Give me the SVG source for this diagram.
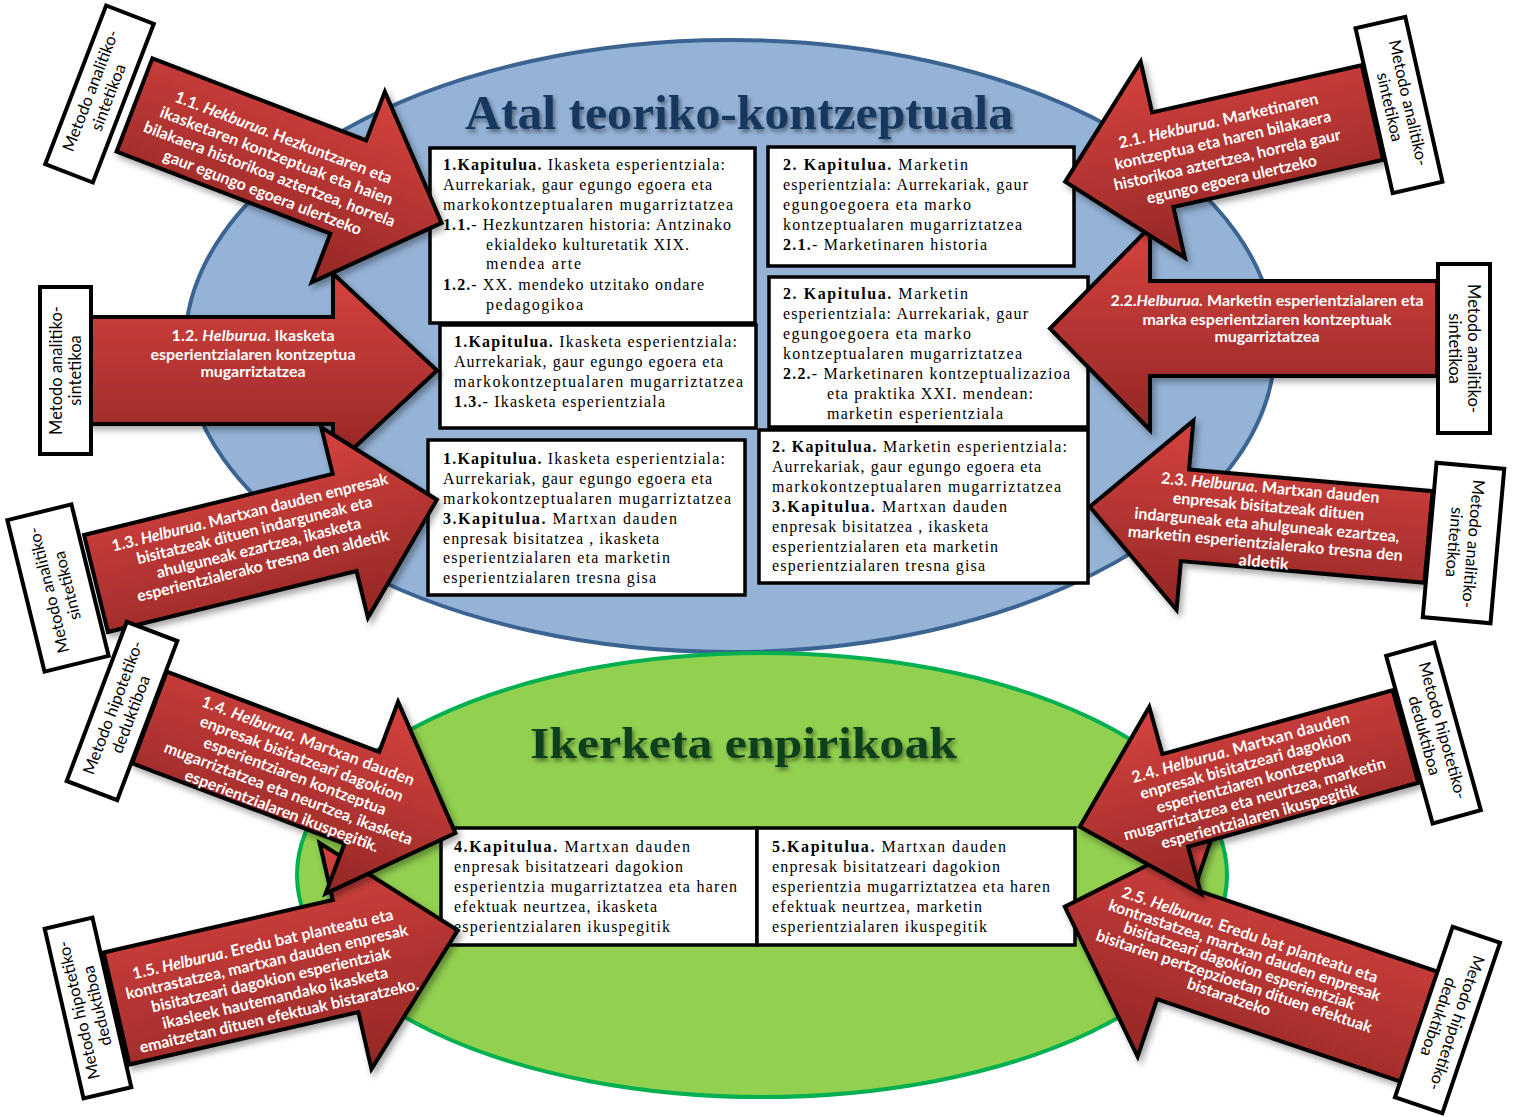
<svg xmlns="http://www.w3.org/2000/svg" width="1515" height="1117" viewBox="0 0 1515 1117">
  <defs>
    <!-- red fill for block arrows; redL is flipped for arrows turned ~180deg -->
    <linearGradient id="redR" x1="0" y1="0" x2="0" y2="1">
      <stop offset="0" stop-color="#D6433F"/>
      <stop offset="1" stop-color="#932725"/>
    </linearGradient>
    <linearGradient id="redL" x1="0" y1="1" x2="0" y2="0">
      <stop offset="0" stop-color="#D6433F"/>
      <stop offset="1" stop-color="#932725"/>
    </linearGradient>
    <filter id="shadow" x="-15%" y="-15%" width="140%" height="140%">
      <feDropShadow dx="3" dy="4" stdDeviation="3" flood-color="#000" flood-opacity="0.35"/>
    </filter>
    <filter id="tshadow" x="-5%" y="-20%" width="115%" height="160%">
      <feDropShadow dx="2" dy="3" stdDeviation="2" flood-color="#000" flood-opacity="0.45"/>
    </filter>
  </defs>
  <style>
    .arrow path { stroke:#000; stroke-width:4; stroke-linejoin:miter; }
    .ar { fill:url(#redR); }
    .al { fill:url(#redL); }
    .atx { font-family:Lato,"Liberation Sans",sans-serif; font-weight:700; font-size:16px; fill:#fff; text-anchor:middle; }
    .it { font-style:italic; }
    .box rect { fill:#fff; stroke:#000; stroke-width:3.5; }
    .btx { font-family:"Liberation Serif",serif; font-size:16px; fill:#000; }
    .b { font-weight:700; }
    .lbl rect { fill:#fff; stroke:#000; stroke-width:4; }
    .ltx { font-family:Lato,"Liberation Sans",sans-serif; font-size:16.5px; fill:#000; text-anchor:middle; }
    .title { font-family:"Liberation Serif",serif; font-weight:700; filter:url(#tshadow); }
  </style>

  <rect width="1515" height="1117" fill="#fff"/>

  <!-- background areas -->
  <g id="area-theory">
    <ellipse cx="730" cy="346" rx="545" ry="306" fill="#95B3D7" stroke="#3C6492" stroke-width="4"/>
    <text class="title" x="465" y="129" font-size="48" fill="#17375E" textLength="548" lengthAdjust="spacingAndGlyphs">Atal teoriko-kontzeptuala</text>
  </g>
  <g id="area-empirical">
    <ellipse cx="762" cy="875" rx="465" ry="222" fill="#92D050" stroke="#00B050" stroke-width="4"/>
    <text class="title" x="530" y="758" font-size="45" fill="#10401A" textLength="427" lengthAdjust="spacingAndGlyphs">Ikerketa enpirikoak</text>
  </g>

  <!-- chapter boxes -->
  <g id="box-1-1" class="box">
    <rect x="430" y="148" width="325" height="175"/>
    <text class="btx" x="443" y="170" textLength="282"><tspan class="b">1.Kapitulua.</tspan> Ikasketa esperientziala:</text>
    <text class="btx" x="443" y="190" textLength="269">Aurrekariak, gaur egungo egoera eta</text>
    <text class="btx" x="443" y="210" textLength="290">markokontzeptualaren mugarriztatzea</text>
    <text class="btx" x="443" y="230" textLength="288"><tspan class="b">1.1.</tspan>- Hezkuntzaren historia: Antzinako</text>
    <text class="btx" x="486" y="250" textLength="203">ekialdeko kulturetatik XIX.</text>
    <text class="btx" x="486" y="269" textLength="95">mendea arte</text>
    <text class="btx" x="443" y="290" textLength="261"><tspan class="b">1.2.</tspan>- XX. mendeko utzitako ondare</text>
    <text class="btx" x="486" y="310" textLength="97">pedagogikoa</text>
  </g>
  <g id="box-1-2" class="box">
    <rect x="440" y="325" width="316" height="103"/>
    <text class="btx" x="454" y="347" textLength="283"><tspan class="b">1.Kapitulua.</tspan> Ikasketa esperientziala:</text>
    <text class="btx" x="454" y="367" textLength="269">Aurrekariak, gaur egungo egoera eta</text>
    <text class="btx" x="454" y="387" textLength="289">markokontzeptualaren mugarriztatzea</text>
    <text class="btx" x="454" y="407" textLength="211"><tspan class="b">1.3.</tspan>- Ikasketa esperientziala</text>
  </g>
  <g id="box-1-3" class="box">
    <rect x="428" y="440" width="317" height="155"/>
    <text class="btx" x="443" y="464" textLength="282"><tspan class="b">1.Kapitulua.</tspan> Ikasketa esperientziala:</text>
    <text class="btx" x="443" y="484" textLength="269">Aurrekariak, gaur egungo egoera eta</text>
    <text class="btx" x="443" y="504" textLength="288">markokontzeptualaren mugarriztatzea</text>
    <text class="btx" x="443" y="524" textLength="234"><tspan class="b">3.Kapitulua.</tspan> Martxan dauden</text>
    <text class="btx" x="443" y="544" textLength="216">enpresak bisitatzea , ikasketa</text>
    <text class="btx" x="443" y="563" textLength="227">esperientzialaren eta marketin</text>
    <text class="btx" x="443" y="583" textLength="213">esperientzialaren tresna gisa</text>
  </g>
  <g id="box-2-1" class="box">
    <rect x="768" y="147" width="306" height="119"/>
    <text class="btx" x="783" y="170" textLength="185"><tspan class="b">2. Kapitulua.</tspan> Marketin</text>
    <text class="btx" x="783" y="190" textLength="245">esperientziala: Aurrekariak, gaur</text>
    <text class="btx" x="783" y="210" textLength="188">egungoegoera eta marko</text>
    <text class="btx" x="783" y="230" textLength="239">kontzeptualaren mugarriztatzea</text>
    <text class="btx" x="783" y="250" textLength="204"><tspan class="b">2.1.</tspan>- Marketinaren historia</text>
  </g>
  <g id="box-2-2" class="box">
    <rect x="769" y="277" width="319" height="150"/>
    <text class="btx" x="783" y="299" textLength="185"><tspan class="b">2. Kapitulua.</tspan> Marketin</text>
    <text class="btx" x="783" y="319" textLength="245">esperientziala: Aurrekariak, gaur</text>
    <text class="btx" x="783" y="339" textLength="188">egungoegoera eta marko</text>
    <text class="btx" x="783" y="359" textLength="239">kontzeptualaren mugarriztatzea</text>
    <text class="btx" x="783" y="379" textLength="287"><tspan class="b">2.2.</tspan>- Marketinaren kontzeptualizazioa</text>
    <text class="btx" x="827" y="399" textLength="206">eta praktika XXI. mendean:</text>
    <text class="btx" x="827" y="419" textLength="176">marketin esperientziala</text>
  </g>
  <g id="box-2-3" class="box">
    <rect x="759" y="430" width="329" height="153"/>
    <text class="btx" x="772" y="452" textLength="295"><tspan class="b">2. Kapitulua.</tspan> Marketin esperientziala:</text>
    <text class="btx" x="772" y="472" textLength="269">Aurrekariak, gaur egungo egoera eta</text>
    <text class="btx" x="772" y="492" textLength="289">markokontzeptualaren mugarriztatzea</text>
    <text class="btx" x="772" y="512" textLength="235"><tspan class="b">3.Kapitulua.</tspan> Martxan dauden</text>
    <text class="btx" x="772" y="532" textLength="216">enpresak bisitatzea , ikasketa</text>
    <text class="btx" x="772" y="552" textLength="226">esperientzialaren eta marketin</text>
    <text class="btx" x="772" y="571" textLength="213">esperientzialaren tresna gisa</text>
  </g>
  <g id="box-4" class="box">
    <rect x="441" y="828" width="316" height="117"/>
    <text class="btx" x="454" y="852" textLength="236"><tspan class="b">4.Kapitulua.</tspan> Martxan dauden</text>
    <text class="btx" x="454" y="872" textLength="229">enpresak bisitatzeari dagokion</text>
    <text class="btx" x="454" y="892" textLength="283">esperientzia mugarriztatzea eta haren</text>
    <text class="btx" x="454" y="912" textLength="203">efektuak neurtzea, ikasketa</text>
    <text class="btx" x="454" y="932" textLength="216">esperientzialaren ikuspegitik</text>
  </g>
  <g id="box-5" class="box">
    <rect x="757" y="828" width="318" height="117"/>
    <text class="btx" x="772" y="852" textLength="234"><tspan class="b">5.Kapitulua.</tspan> Martxan dauden</text>
    <text class="btx" x="772" y="872" textLength="228">enpresak bisitatzeari dagokion</text>
    <text class="btx" x="772" y="892" textLength="278">esperientzia mugarriztatzea eta haren</text>
    <text class="btx" x="772" y="912" textLength="210">efektuak neurtzea, marketin</text>
    <text class="btx" x="772" y="932" textLength="215">esperientzialaren ikuspegitik</text>
  </g>

  <!-- objective arrows (block arrows drawn in local frame: tail at origin, pointing +x) -->
  <g id="connectors">
    <g id="obj-1-2">
      <g class="arrow" filter="url(#shadow)">
        <path class="ar" transform="translate(89,370.5)" d="M0,-53.5H244V-97L348,0L244,97V53.5H0Z"/>
      </g>
      <text class="atx" x="253" y="340.5" textLength="163">1.2. <tspan class="it">Helburua</tspan>. Ikasketa</text>
      <text class="atx" x="253" y="359.5" textLength="205">esperientzialaren kontzeptua</text>
      <text class="atx" x="253" y="376.5" textLength="105">mugarriztatzea</text>
    </g>
    <g id="obj-1-3">
      <g class="arrow" filter="url(#shadow)">
        <path class="ar" transform="translate(96,583.5) rotate(-13.8)" d="M0,-50H256V-98L351,0L256,98V50H0Z"/>
      </g>
      <g transform="translate(256.5,539) rotate(-13.8)">
        <text class="atx" y="-22" textLength="284">1.3. <tspan class="it">Helburua</tspan>. Martxan dauden enpresak</text>
        <text class="atx" y="-3.6" textLength="242">bisitatzeak dituen indarguneak eta</text>
        <text class="atx" y="14.6" textLength="210">ahulguneak ezartzea, ikasketa</text>
        <text class="atx" y="32.8" textLength="259">esperientzialerako tresna den aldetik</text>
      </g>
    </g>
    <g id="obj-1-1">
      <g class="arrow" filter="url(#shadow)">
        <path class="ar" transform="translate(134.5,105) rotate(21)" d="M0,-50H229V-102L329,0L229,102V50H0Z"/>
      </g>
      <g transform="translate(273,165) rotate(21)">
        <text class="atx" y="-24" textLength="231">1.1. <tspan class="it">Hekburua</tspan>. Hezkuntzaren eta</text>
        <text class="atx" y="-4.4" textLength="248">ikasketaren kontzeptuak eta haien</text>
        <text class="atx" y="15.2" textLength="268">bilakaera historikoa aztertzea, horrela</text>
        <text class="atx" y="34.8" textLength="211">gaur egungo egoera ulertzeko</text>
      </g>
    </g>
    <g id="obj-1-5">
      <g class="arrow" filter="url(#shadow)">
        <path class="ar" transform="translate(116.5,1008.5) rotate(-12.9)" d="M0,-57.5H235V-116L350,0L235,116V57.5H0Z"/>
      </g>
      <g transform="translate(271,980) rotate(-12.9)">
        <text class="atx" y="-31.4" textLength="267">1.5. <tspan class="it">Helburua</tspan>. Eredu bat planteatu eta</text>
        <text class="atx" y="-13" textLength="289">kontrastatzea, martxan dauden enpresak</text>
        <text class="atx" y="5.4" textLength="245">bisitatzeari dagokion esperientziak</text>
        <text class="atx" y="23.8" textLength="231">ikasleek hautemandako ikasketa</text>
        <text class="atx" y="42.2" textLength="286">emaitzetan dituen efektuak bistaratzeko.</text>
      </g>
    </g>
    <g id="obj-1-4">
      <g class="arrow" filter="url(#shadow)">
        <path class="ar" transform="translate(149.5,717.5) rotate(20.7)" d="M0,-49H227V-102.5L327,0L227,102.5V49H0Z"/>
      </g>
      <g transform="translate(295,776) rotate(20.7)">
        <text class="atx" y="-32" textLength="226">1.4. <tspan class="it">Helburua</tspan>.  Martxan dauden</text>
        <text class="atx" y="-13.2" textLength="216">enpresak bisitatzeari dagokion</text>
        <text class="atx" y="5.4" textLength="194">esperientziaren kontzeptua</text>
        <text class="atx" y="24" textLength="264">mugarriztatzea eta neurtzea, ikasketa</text>
        <text class="atx" y="42.6" textLength="206">esperientzialaren ikuspegitik.</text>
      </g>
    </g>
    <g id="obj-2-2">
      <g class="arrow" filter="url(#shadow)">
        <path class="al" transform="translate(1437,328.5) rotate(180)" d="M0,-47.5H287V-101.5L387,0L287,101.5V47.5H0Z"/>
      </g>
      <text class="atx" x="1267" y="305.5" textLength="313">2.2.<tspan class="it">Helburua.</tspan> Marketin esperientzialaren eta</text>
      <text class="atx" x="1267" y="324.5" textLength="249">marka esperientziaren kontzeptuak</text>
      <text class="atx" x="1267" y="341.5" textLength="105">mugarriztatzea</text>
    </g>
    <g id="obj-2-3">
      <g class="arrow" filter="url(#shadow)">
        <path class="al" transform="translate(1428.5,537) rotate(185.1)" d="M0,-46H244.5V-95L340,0L244.5,95V46H0Z"/>
      </g>
      <g transform="translate(1267,525) rotate(5.1)">
        <text class="atx" y="-31.8" textLength="219">2.3. <tspan class="it">Helburua</tspan>. Martxan dauden</text>
        <text class="atx" y="-13.2" textLength="192">enpresak bisitatzeak dituen</text>
        <text class="atx" y="5.4" textLength="266">indarguneak eta ahulguneak ezartzea,</text>
        <text class="atx" y="24" textLength="276">marketin esperientzialerako tresna den</text>
        <text class="atx" y="42.6" textLength="50">aldetik</text>
      </g>
    </g>
    <g id="obj-2-1">
      <g class="arrow" filter="url(#shadow)">
        <path class="al" transform="translate(1372.5,112.5) rotate(167.3)" d="M0,-48.5H215V-100.5L315,0L215,100.5V48.5H0Z"/>
      </g>
      <g transform="translate(1225,150) rotate(-12.7)">
        <text class="atx" y="-24.5" textLength="204">2.1. <tspan class="it">Hekburua</tspan>. Marketinaren</text>
        <text class="atx" y="-4.5" textLength="221">kontzeptua eta haren bilakaera</text>
        <text class="atx" y="15.5" textLength="232">historikoa aztertzea, horrela gaur</text>
        <text class="atx" y="35.5" textLength="174">egungo egoera ulertzeko</text>
      </g>
    </g>
    <g id="obj-2-5">
      <g class="arrow" filter="url(#shadow)">
        <path class="al" transform="translate(1420,1027) rotate(198.7)" d="M0,-58H258V-118.5L375,0L258,118.5V58H0Z"/>
      </g>
      <g transform="translate(1239.4,965.9) rotate(18.7)">
        <text class="atx" y="-27.4" textLength="269">2.5. <tspan class="it">Helburua</tspan>. Eredu bat planteatu eta</text>
        <text class="atx" y="-11" textLength="286">kontrastatzea, martxan dauden enpresak</text>
        <text class="atx" y="5.4" textLength="243">bisitatzeari dagokion esperientziak</text>
        <text class="atx" y="21.8" textLength="290">bisitarien pertzepzioetan dituen efektuak</text>
        <text class="atx" y="38.2" textLength="87">bistaratzeko</text>
      </g>
    </g>
    <g id="obj-2-4">
      <g class="arrow" filter="url(#shadow)">
        <path class="al" transform="translate(1405.5,736.5) rotate(164.5)" d="M0,-48H239V-97L338,0L239,97V48H0Z"/>
      </g>
      <g transform="translate(1250,782) rotate(-15.5)">
        <text class="atx" y="-30.2" textLength="225">2.4. <tspan class="it">Helburua</tspan>.  Martxan dauden</text>
        <text class="atx" y="-12.4" textLength="218">enpresak bisitatzeari dagokion</text>
        <text class="atx" y="5.4" textLength="194">esperientziaren kontzeptua</text>
        <text class="atx" y="23.2" textLength="271">mugarriztatzea eta neurtzea, marketin</text>
        <text class="atx" y="41" textLength="204">esperientzialaren ikuspegitik</text>
      </g>
    </g>
  </g>

  <!-- method labels -->
  <g id="method-1-1" class="lbl" transform="translate(99.5,94) rotate(-69)">
    <rect x="-85" y="-25.5" width="170" height="51"/>
    <text class="ltx" y="-4">Metodo analitiko-</text>
    <text class="ltx" y="15">sintetikoa</text>
  </g>
  <g id="method-1-2" class="lbl" transform="translate(65.5,370.5) rotate(-90)">
    <rect x="-83.5" y="-25.5" width="167" height="51"/>
    <text class="ltx" y="-4">Metodo analitiko-</text>
    <text class="ltx" y="15">sintetikoa</text>
  </g>
  <g id="method-1-3" class="lbl" transform="translate(58,588) rotate(-103.8)">
    <rect x="-78" y="-33" width="156" height="66"/>
    <text class="ltx" y="-4">Metodo analitiko-</text>
    <text class="ltx" y="15">sintetikoa</text>
  </g>
  <g id="method-1-4" class="lbl" transform="translate(122,711) rotate(-69.3)">
    <rect x="-85" y="-27" width="170" height="54"/>
    <text class="ltx" y="-4">Metodo hipotetiko-</text>
    <text class="ltx" y="15">deduktiboa</text>
  </g>
  <g id="method-1-5" class="lbl" transform="translate(88,1008) rotate(-102.9)">
    <rect x="-87" y="-24.5" width="174" height="49"/>
    <text class="ltx" y="-4">Metodo hipotetiko-</text>
    <text class="ltx" y="15">deduktiboa</text>
  </g>
  <g id="method-2-1" class="lbl" transform="translate(1399,105) rotate(77.3)">
    <rect x="-84.5" y="-25.5" width="169" height="51"/>
    <text class="ltx" y="-4">Metodo analitiko-</text>
    <text class="ltx" y="15">sintetikoa</text>
  </g>
  <g id="method-2-2" class="lbl" transform="translate(1464,348.5) rotate(90)">
    <rect x="-84.5" y="-26" width="169" height="52"/>
    <text class="ltx" y="-4">Metodo analitiko-</text>
    <text class="ltx" y="15">sintetikoa</text>
  </g>
  <g id="method-2-3" class="lbl" transform="translate(1463.5,543) rotate(95.1)">
    <rect x="-77.5" y="-34" width="155" height="68"/>
    <text class="ltx" y="-4">Metodo analitiko-</text>
    <text class="ltx" y="15">sintetikoa</text>
  </g>
  <g id="method-2-4" class="lbl" transform="translate(1433.5,733) rotate(74.5)">
    <rect x="-87" y="-25" width="174" height="50"/>
    <text class="ltx" y="-4">Metodo hipotetiko-</text>
    <text class="ltx" y="15">deduktiboa</text>
  </g>
  <g id="method-2-5" class="lbl" transform="translate(1447.5,1020) rotate(108.7)">
    <rect x="-90" y="-25" width="180" height="50"/>
    <text class="ltx" y="-4">Metodo hipotetiko-</text>
    <text class="ltx" y="15">deduktiboa</text>
  </g>
</svg>
